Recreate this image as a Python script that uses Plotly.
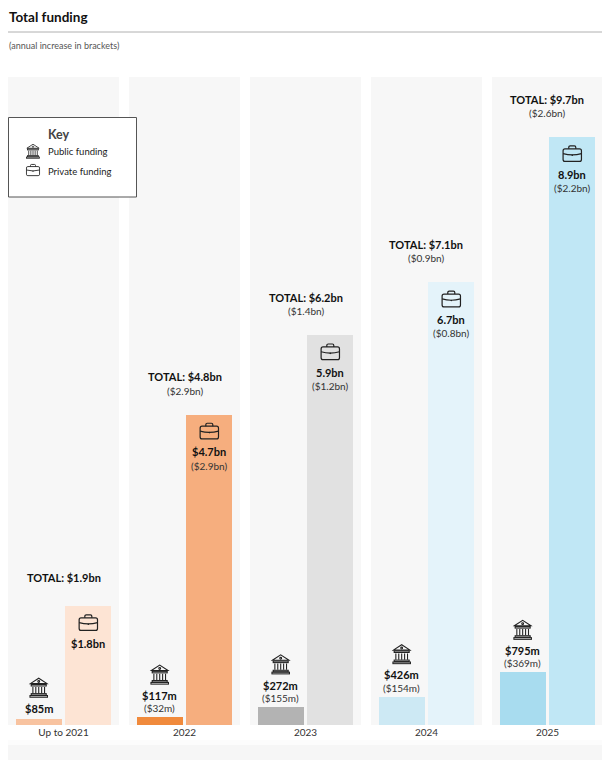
import base64
import plotly.graph_objects as go

# ---------------- data ----------------
categories = ["Up to 2021", "2022", "2023", "2024", "2025"]
public_bn = [0.085, 0.117, 0.272, 0.426, 0.795]
private_bn = [1.8, 4.7, 5.9, 6.7, 8.9]
public_text = ["$85m", "$117m", "$272m", "$426m", "$795m"]
public_incr = ["", "($32m)", "($155m)", "($154m)", "($369m)"]
private_text = ["$1.8bn", "$4.7bn", "5.9bn", "6.7bn", "8.9bn"]
private_incr = ["", "($2.9bn)", "($1.2bn)", "($0.8bn)", "($2.2bn)"]
total_text = ["$1.9bn", "$4.8bn", "$6.2bn", "$7.1bn", "$9.7bn"]
total_incr = ["", "($2.9bn)", "($1.4bn)", "($0.9bn)", "($2.6bn)"]

public_colors = ["#f8c3a0", "#f08a3c", "#b3b3b3", "#cde9f4", "#a8dcef"]
private_colors = ["#fde4d4", "#f6ae7e", "#e1e1e1", "#e4f3fa", "#c0e7f5"]

# ---------------- geometry ----------------
# the page body has an 8px margin, so figure coords = screen coords - 8
OFF = 8
W, H = 602, 758
ML, MR, MT, MB = 0, 7, 69, 41
PW, PH = W - ML - MR, H - MT - MB
XR = [-0.459, 4.459]
YR = [0, 9.81]
PPX = PW / (XR[1] - XR[0])   # px per x unit
PPY = PH / (YR[1] - YR[0])   # px per y unit
BAR_W = 0.38
PUB_OFF, PRI_OFF = -0.395, 0.015
FONT = "Lato"


def px(xp):
    # screen x -> paper
    return (xp - OFF - ML) / PW


def py(yp):
    # screen y -> paper
    return (H - MB - (yp - OFF)) / PH


def svg_uri(svg):
    return "data:image/svg+xml;base64," + base64.b64encode(svg.encode()).decode()


BANK = svg_uri(
    '<svg xmlns="http://www.w3.org/2000/svg" viewBox="0 0 24 26">'
    '<g fill="none" stroke="#222" stroke-width="1.3">'
    '<path d="M2 8.5 L12 2 L22 8.5 Z"/><circle cx="12" cy="6" r="1.1"/>'
    '<rect x="3" y="9.5" width="18" height="1.8"/>'
    '<path d="M5 12.5V20M8.5 12.5V20M12 12.5V20M15.5 12.5V20M19 12.5V20"/>'
    '<rect x="3" y="20.5" width="18" height="1.8"/>'
    '<rect x="1.5" y="22.8" width="21" height="2"/></g></svg>')
CASE = svg_uri(
    '<svg xmlns="http://www.w3.org/2000/svg" viewBox="0 0 24 21">'
    '<g fill="none" stroke="#222" stroke-width="1.4">'
    '<path d="M8 5V3.2a1.6 1.6 0 0 1 1.6-1.6h4.8a1.6 1.6 0 0 1 1.6 1.6V5"/>'
    '<rect x="1.5" y="5" width="21" height="14.5" rx="2.2"/>'
    '<path d="M1.5 10.5 Q12 13.5 22.5 10.5"/></g>'
    '<circle cx="12" cy="12.3" r="0.9" fill="#222"/></svg>')

xs = list(range(len(categories)))

fig = go.Figure()
fig.add_trace(go.Bar(x=xs, y=public_bn, width=BAR_W, offset=PUB_OFF,
                     marker=dict(color=public_colors, line=dict(width=0)),
                     hoverinfo="skip", showlegend=False))
fig.add_trace(go.Bar(x=xs, y=private_bn, width=BAR_W, offset=PRI_OFF,
                     marker=dict(color=private_colors, line=dict(width=0)),
                     hoverinfo="skip", showlegend=False))

shapes = []
annotations = []
images = []

# panels behind each year
for i in xs:
    shapes.append(dict(type="rect", xref="x", yref="paper", x0=i - 0.459, x1=i + 0.459,
                       y0=0, y1=1, fillcolor="#f7f7f7", line=dict(width=0), layer="below"))


def label(x, y, text, shift, size=11, bold=True, color="#111"):
    annotations.append(dict(x=x, y=y, xref="x", yref="y", text=f"<b>{text}</b>" if bold else text,
                            showarrow=False, yshift=shift, yanchor="middle", xanchor="center",
                            font=dict(family=FONT, size=size, color=color)))


for i in xs:
    pub_x = i + PUB_OFF + BAR_W / 2
    pri_x = i + PRI_OFF + BAR_W / 2
    # public: labels above bar
    if public_incr[i]:
        label(pub_x, public_bn[i], public_incr[i], 9, size=10, bold=False, color="#333")
        vs = 22
    else:
        vs = 11
    label(pub_x, public_bn[i], public_text[i], vs)
    images.append(dict(source=BANK, xref="x", yref="y", x=pub_x, y=public_bn[i] + (vs + 10) / PPY,
                       sizex=20 / PPX, sizey=22 / PPY, xanchor="center", yanchor="bottom",
                       sizing="contain", layer="above"))
    # private: labels inside bar
    images.append(dict(source=CASE, xref="x", yref="y", x=pri_x, y=private_bn[i] - 7 / PPY,
                       sizex=21 / PPX, sizey=19 / PPY, xanchor="center", yanchor="top",
                       sizing="contain", layer="above"))
    label(pri_x, private_bn[i], private_text[i], -37)
    if private_incr[i]:
        label(pri_x, private_bn[i], private_incr[i], -51, size=10, bold=False, color="#333")
    # totals above private bar, centred on panel
    if total_incr[i]:
        label(i, private_bn[i], "TOTAL: " + total_text[i], 38)
        label(i, private_bn[i], total_incr[i], 24, size=10, bold=False, color="#333")
    else:
        label(i, private_bn[i], "TOTAL: " + total_text[i], 29)

# title, rule, subtitle
annotations.append(dict(x=px(7), y=py(17), xref="paper", yref="paper", text="<b>Total funding</b>",
                        showarrow=False, xanchor="left", yanchor="middle",
                        font=dict(family=FONT, size=13.5, color="#111")))
shapes.append(dict(type="line", xref="paper", yref="paper", x0=px(8), x1=px(603),
                   y0=py(32), y1=py(32), line=dict(color="#b0b0b0", width=1)))
annotations.append(dict(x=px(7), y=py(46), xref="paper", yref="paper",
                        text="(annual increase in brackets)", showarrow=False,
                        xanchor="left", yanchor="middle",
                        font=dict(family=FONT, size=9, color="#555")))

# key box (below layer so the icons sit on top of it)
shapes.append(dict(type="rect", xref="paper", yref="paper", x0=px(8.5), x1=px(136.5),
                   y0=py(197), y1=py(117.5), fillcolor="white", line=dict(color="#555", width=1),
                   layer="below"))
annotations.append(dict(x=px(46), y=py(135), xref="paper", yref="paper", text="<b>Key</b>",
                        showarrow=False, xanchor="left", yanchor="middle",
                        font=dict(family=FONT, size=12.5, color="#444")))
for yy, txt, src, w, h in [(152, "Public funding", BANK, 15, 16), (171, "Private funding", CASE, 15, 14)]:
    annotations.append(dict(x=px(45.5), y=py(yy), xref="paper", yref="paper", text=txt,
                            showarrow=False, xanchor="left", yanchor="middle",
                            font=dict(family=FONT, size=9.5, color="#222")))
    images.append(dict(source=src, xref="paper", yref="paper", x=px(33), y=py(yy - 1),
                       sizex=w / PW, sizey=h / PH, xanchor="center", yanchor="middle",
                       sizing="contain", layer="above"))

# soft grey strip at the bottom
shapes.append(dict(type="rect", xref="paper", yref="paper", x0=-0.05, x1=1.05,
                   y0=py(745), y1=py(740), fillcolor="#fcfcfc", line=dict(width=0)))
shapes.append(dict(type="rect", xref="paper", yref="paper", x0=-0.05, x1=1.05,
                   y0=py(760), y1=py(745), fillcolor="#f6f6f6", line=dict(width=0)))

fig.update_layout(
    width=W, height=H,
    margin=dict(l=ML, r=MR, t=MT, b=MB),
    paper_bgcolor="white", plot_bgcolor="white",
    barmode="overlay", bargap=0,
    shapes=shapes, annotations=annotations, images=images,
    xaxis=dict(range=XR, tickvals=xs, ticktext=categories, showgrid=False, zeroline=False,
               showline=False, ticks="", tickfont=dict(family=FONT, size=10, color="#333"),
               fixedrange=True),
    yaxis=dict(range=YR, visible=False, fixedrange=True),
)

fig.write_html("out.html")
